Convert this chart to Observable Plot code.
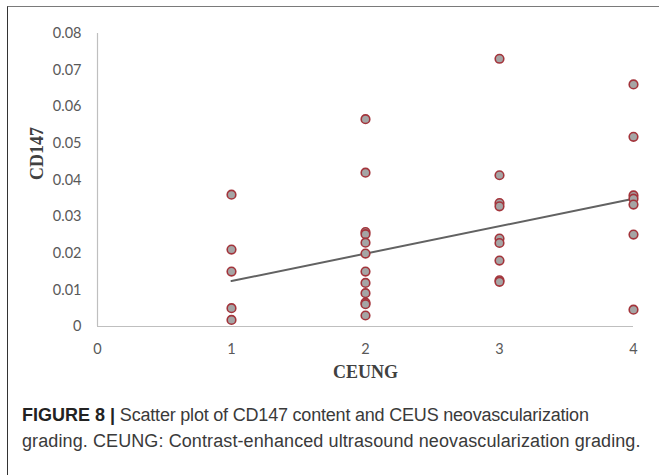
<!DOCTYPE html>
<html><head><meta charset="utf-8">
<script src="https://cdn.jsdelivr.net/npm/d3@7"></script>
<script src="https://cdn.jsdelivr.net/npm/@observablehq/plot@0.6"></script>
<style>
body{margin:0;background:#fff;}
#wrap{position:relative;width:659px;height:475px;overflow:hidden;background:#fff;}
#frame{position:absolute;left:7px;top:6px;width:700px;height:520px;border-top:1.5px solid #7a7a7a;border-left:1.5px solid #333;}
#chart{position:absolute;left:0;top:0;}
#caption{position:absolute;left:22px;top:402px;white-space:nowrap;font-family:"Liberation Sans",Arial,sans-serif;font-size:18px;line-height:26px;color:#3a3a3a;}
#caption .l1{letter-spacing:-0.2px;}
#caption .l2{letter-spacing:0.1px;}
#caption b{color:#222;}
</style></head>
<body>
<div id="wrap">
  <div id="frame"></div>
  <div id="chart"></div>
  <div id="caption"><b>FIGURE 8 |</b><span class="l1"> Scatter plot of CD147 content and CEUS neovascularization</span><br><span class="l2">grading. CEUNG: Contrast-enhanced ultrasound neovascularization grading.</span></div>
</div>
<script>
// CD147 values per CEUNG grade
const grade1 = [0.0360, 0.0210, 0.0150, 0.0050, 0.0018];
const grade2 = [0.0566, 0.0420, 0.0258, 0.0252, 0.0229, 0.0199, 0.0150, 0.0119, 0.0091, 0.0065, 0.0061, 0.0030];
const grade3 = [0.0731, 0.0413, 0.0337, 0.0328, 0.0240, 0.0228, 0.0180, 0.0126, 0.0122];
const grade4 = [0.0661, 0.0518, 0.0358, 0.0349, 0.0333, 0.0251, 0.0046];

// trend line endpoints
const trendX = [1, 4];
const trendY = [0.0124, 0.0349];

// ticks
const xTicks = [0, 1, 2, 3, 4];
const yTicks = [0, 0.01, 0.02, 0.03, 0.04, 0.05, 0.06, 0.07, 0.08];
const yTickLabels = ["0", "0.01", "0.02", "0.03", "0.04", "0.05", "0.06", "0.07", "0.08"];

const xTitle = "CEUNG";
const yTitle = "CD147";

const points = [
  ...grade1.map(v => ({g: 1, v})),
  ...grade2.map(v => ({g: 2, v})),
  ...grade3.map(v => ({g: 3, v})),
  ...grade4.map(v => ({g: 4, v}))
];
const trend = trendX.map((x, i) => ({x, y: trendY[i]}));

const chart = Plot.plot({
  width: 659,
  height: 395,
  marginLeft: 97,
  marginRight: 26,
  marginTop: 33,
  marginBottom: 69,
  x: {domain: [0, 4]},
  y: {domain: [0, 0.08]},
  style: {fontFamily: "Lato, 'Open Sans', sans-serif", fontSize: "14.5px", color: "#595959", background: "transparent", overflow: "visible"},
  marks: [
    Plot.ruleX([0], {stroke: "#bfbfbf", strokeWidth: 1.2}),
    Plot.ruleY([0], {stroke: "#bfbfbf", strokeWidth: 1.2}),
    Plot.axisY({ticks: yTicks, tickFormat: d => yTickLabels[yTicks.indexOf(d)], tickSize: 0, tickPadding: 16, label: null, fill: "#595959"}),
    Plot.axisX({ticks: xTicks, tickFormat: d => String(d), tickSize: 0, tickPadding: 17, label: null, fill: "#595959"}),
    Plot.text([yTitle], {frameAnchor: "left", dx: -60, rotate: -90, fontFamily: "'Liberation Serif', 'Times New Roman', serif", fontWeight: "bold", fontSize: 18, fill: "#404040"}),
    Plot.text([xTitle], {frameAnchor: "bottom", dy: 46, lineAnchor: "middle", fontFamily: "'Liberation Serif', 'Times New Roman', serif", fontWeight: "bold", fontSize: 18, fill: "#404040"}),
    Plot.line(trend, {x: "x", y: "y", stroke: "#626262", strokeWidth: 2}),
    Plot.dot(points, {x: "g", y: "v", r: 4.3, fill: "#a5a5a5", stroke: "#a3343b", strokeWidth: 1.6})
  ]
});
document.getElementById("chart").appendChild(chart);
</script>
</body></html>
